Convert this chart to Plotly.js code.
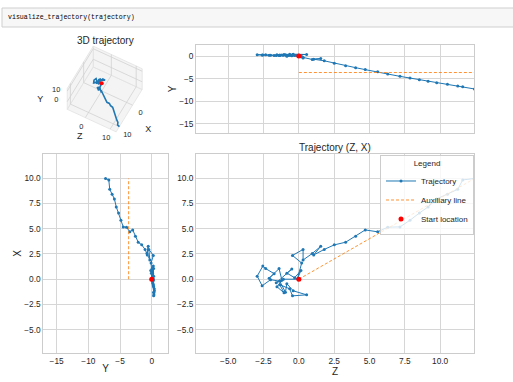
<!DOCTYPE html>
<html><head><meta charset="utf-8">
<script src="https://cdn.plot.ly/plotly-3.0.1.min.js"></script>
<style>html,body{margin:0;padding:0;background:#fff;overflow:hidden}#chart{width:513px;height:382px}</style>
</head><body><div id="chart"></div>
<script>
// Trajectory coordinates
const trajZ = [0.00,-1.10,-1.55,-1.05,-1.35,-0.65,-0.45,0.55,-0.40,-0.85,-0.95,-1.35,-2.00,-2.60,-2.95,-2.55,-2.35,-1.75,-2.10,-1.40,-1.20,-1.60,-0.50,-0.85,-0.30,0.15,-0.10,0.20,-0.45,0.30,0.30,0.95,1.55,1.05,1.80,2.51,3.31,4.02,4.70,5.58,6.29,7.16,7.87,8.53,9.15,9.76,10.52,11.25,11.60,12.43];
const trajX = [0.00,0.00,-0.75,-1.35,-0.55,-0.95,-1.65,-1.55,-1.15,-0.45,-1.30,-0.20,-0.05,-0.65,0.30,1.30,1.05,0.55,0.10,1.05,-0.10,-0.35,1.00,0.60,0.15,0.85,0.05,1.60,2.35,2.95,1.90,2.55,3.25,2.40,2.95,3.40,3.66,4.26,4.88,4.69,5.15,5.18,5.84,6.55,7.16,7.95,8.40,8.90,9.83,9.97];
const trajY = [0.00,0.20,0.30,0.35,0.25,0.40,0.30,0.35,0.42,0.20,0.30,0.15,0.20,0.25,0.30,0.25,0.30,0.15,0.20,0.10,0.25,0.15,0.05,-0.05,0.10,-0.15,0.05,-0.10,0.25,-0.45,-0.30,-0.75,-0.55,-0.70,-1.05,-1.58,-2.13,-2.57,-3.00,-3.46,-3.97,-4.49,-4.86,-5.23,-5.59,-5.89,-6.25,-6.62,-6.77,-7.28];
const startZ = [0], startX = [0], startY = [0];
const auxZ = [0, 12.43], auxX = [0, 9.97], auxY = [-3.64, -3.64];
const rangeZX = [-7.28, 12.4];
const rangeY = [-17.1, 2.52];
const range3D = [-7.28, 12.4];
const ticks3D = [0, 10];
const tickLabels3D = ['0', '10'];

const blue = '#1f77b4', orange = '#ff7f0e', red = '#ff0000';
const trajStyle = {mode:'lines+markers', line:{color:blue, width:1}, marker:{color:blue, size:3}};
const auxStyle = {mode:'lines', line:{color:orange, width:1, dash:'3px,2px'}, opacity:0.85};
const startStyle = {mode:'markers', marker:{color:red, size:5}};

// ---- 3D view (matplotlib-like orthographic projection onto a hidden 2D axis) ----
const AZ = 28 * Math.PI / 180, EL = 60 * Math.PI / 180;
const BOX_ASPECT = [1, 1, 0.75];       // matplotlib default box aspect 4:4:3
const PX = 55.4;                        // pixels per box unit
const CX = 104.7, CY = 89;              // pixel position of the box centre
const P3 = {x0:40, x1:170, y0:40, y1:150}; // pixel region of the 3D panel
function proj(X, Z, Y) {               // mpl x = X, y = Z, z = Y
  const span = range3D[1] - range3D[0], mid = (range3D[0] + range3D[1]) / 2;
  const bx = (X - mid) / span * BOX_ASPECT[0];
  const by = (Z - mid) / span * BOX_ASPECT[1];
  const bz = (Y - mid) / span * BOX_ASPECT[2];
  const sa = Math.sin(AZ), ca = Math.cos(AZ), se = Math.sin(EL), ce = Math.cos(EL);
  return [-sa * bx + ca * by, -se * ca * bx - se * sa * by + ce * bz];
}
function projList(Xs, Zs, Ys) {
  const h = [], v = [];
  for (let i = 0; i < Xs.length; i++) {
    if (Xs[i] === null) { h.push(null); v.push(null); continue; }
    const p = proj(Xs[i], Zs[i], Ys[i]); h.push(p[0]); v.push(p[1]);
  }
  return {h, v};
}
const lo = range3D[0], hi = range3D[1];
// panes: floor (Y = lo), wall X = lo, wall Z = lo
const paneFloor = projList([lo, hi, hi, lo, lo], [lo, lo, hi, hi, lo], [lo, lo, lo, lo, lo]);
const paneWallX = projList([lo, lo, lo, lo, lo], [lo, hi, hi, lo, lo], [lo, lo, hi, hi, lo]);
const paneWallZ = projList([lo, hi, hi, lo, lo], [lo, lo, lo, lo, lo], [lo, lo, hi, hi, lo]);
// grid lines at the tick values
const gX = [], gZ = [], gY = [];
ticks3D.forEach(t => {
  gX.push(t, t, null);  gZ.push(lo, hi, null); gY.push(lo, lo, null);   // floor, X = t
  gX.push(lo, hi, null); gZ.push(t, t, null);  gY.push(lo, lo, null);   // floor, Z = t
  gX.push(lo, lo, null); gZ.push(t, t, null);  gY.push(lo, hi, null);   // wall X=lo, Z = t
  gX.push(lo, lo, null); gZ.push(lo, hi, null); gY.push(t, t, null);    // wall X=lo, Y = t
  gX.push(t, t, null);  gZ.push(lo, lo, null); gY.push(lo, hi, null);   // wall Z=lo, X = t
  gX.push(lo, hi, null); gZ.push(lo, lo, null); gY.push(t, t, null);    // wall Z=lo, Y = t
});
const grid3 = projList(gX, gZ, gY);
const traj3 = projList(trajX, trajZ, trajY);
const start3 = projList(startX, startZ, startY);
// tick labels and axis labels, placed on the matplotlib tick edges with a pixel offset
function labelPos(Xs, Zs, Ys, dx, dy) {
  const p = projList(Xs, Zs, Ys);
  return {h: p.h.map(x => x + dx / PX), v: p.v.map(y => y - dy / PX)};
}
const tickXpos = labelPos(ticks3D, ticks3D.map(() => hi), ticks3D.map(() => lo), 8, 8);
const tickZpos = labelPos(ticks3D.map(() => hi), ticks3D, ticks3D.map(() => lo), -4, 9);
const tickYpos = labelPos(ticks3D.map(() => hi), ticks3D.map(() => lo), ticks3D, -11, -1);
const midv = (lo + hi) / 2;
const labX = labelPos([midv], [hi], [lo], 19, 19);
const labZ = labelPos([hi], [midv], [lo], -12, 16);
const labY = labelPos([hi], [lo], [midv], -27, 1);

const s3 = {xaxis:'x4', yaxis:'y4', showlegend:false, hoverinfo:'skip', cliponaxis:false};
const paneStyle = {mode:'lines', fill:'toself', fillcolor:'rgba(236,236,236,0.6)', line:{color:'#e2e2e2', width:0.8}};
const txt3 = {mode:'text', textfont:{size:7.5, color:'#262626'}};

const data = [
  // (Z, X) panel with legend
  Object.assign({type:'scatter', x:trajZ, y:trajX, xaxis:'x3', yaxis:'y3', name:'Trajectory', showlegend:true}, trajStyle),
  Object.assign({type:'scatter', x:auxZ, y:auxX, xaxis:'x3', yaxis:'y3', name:'Auxiliary line', showlegend:true}, auxStyle),
  Object.assign({type:'scatter', x:startZ, y:startX, xaxis:'x3', yaxis:'y3', name:'Start location', showlegend:true}, startStyle),
  // (Z, Y) panel
  Object.assign({type:'scatter', x:trajZ, y:trajY, xaxis:'x', yaxis:'y', showlegend:false}, trajStyle),
  Object.assign({type:'scatter', x:auxZ, y:auxY, xaxis:'x', yaxis:'y', showlegend:false}, auxStyle),
  Object.assign({type:'scatter', x:startZ, y:startY, xaxis:'x', yaxis:'y', showlegend:false}, startStyle),
  // (Y, X) panel
  Object.assign({type:'scatter', x:trajY, y:trajX, xaxis:'x2', yaxis:'y2', showlegend:false}, trajStyle),
  Object.assign({type:'scatter', x:auxY, y:auxX, xaxis:'x2', yaxis:'y2', showlegend:false}, auxStyle),
  Object.assign({type:'scatter', x:startY, y:startX, xaxis:'x2', yaxis:'y2', showlegend:false}, startStyle),
  // 3D panel
  Object.assign({type:'scatter', x:paneFloor.h, y:paneFloor.v}, s3, paneStyle),
  Object.assign({type:'scatter', x:paneWallX.h, y:paneWallX.v}, s3, paneStyle),
  Object.assign({type:'scatter', x:paneWallZ.h, y:paneWallZ.v}, s3, paneStyle),
  Object.assign({type:'scatter', x:grid3.h, y:grid3.v, mode:'lines', line:{color:'#d2d2d2', width:0.8}, connectgaps:false}, s3),
  Object.assign({type:'scatter', x:traj3.h, y:traj3.v, mode:'lines', line:{color:blue, width:1.6}}, s3),
  Object.assign({type:'scatter', x:start3.h, y:start3.v, mode:'markers', marker:{color:red, size:4}}, s3),
  Object.assign({type:'scatter', x:tickXpos.h, y:tickXpos.v, text:tickLabels3D}, s3, txt3),
  Object.assign({type:'scatter', x:tickZpos.h, y:tickZpos.v, text:tickLabels3D}, s3, txt3),
  Object.assign({type:'scatter', x:tickYpos.h, y:tickYpos.v, text:tickLabels3D}, s3, txt3),
  Object.assign({type:'scatter', x:labX.h, y:labX.v, text:['X']}, s3, {mode:'text', textfont:{size:9, color:'#262626'}}),
  Object.assign({type:'scatter', x:labZ.h, y:labZ.v, text:['Z']}, s3, {mode:'text', textfont:{size:9, color:'#262626'}}),
  Object.assign({type:'scatter', x:labY.h, y:labY.v, text:['Y']}, s3, {mode:'text', textfont:{size:9, color:'#262626'}})
];

const grid = {showgrid:true, gridcolor:'#d6d6d6', gridwidth:1, showline:true, linecolor:'#cccccc', linewidth:1, mirror:true, zeroline:false, ticks:'', tickfont:{size:8.3, color:'#262626'}};
const ttl = (t) => ({text:t, font:{size:10, color:'#262626'}, standoff:0});
const W = 513, H = 382;

const layout = {
  width:W, height:H, margin:{l:0, r:0, t:0, b:0},
  paper_bgcolor:'#ffffff', plot_bgcolor:'rgba(0,0,0,0)',
  font:{family:'"Liberation Sans", Arial, sans-serif', color:'#262626', size:8.3},
  showlegend:true,
  legend:{x:0.924, xanchor:'right', y:0.594, yanchor:'top', bgcolor:'rgba(255,255,255,0.8)', bordercolor:'#cccccc', borderwidth:1, font:{size:8}, title:{text:'Legend', side:'top center', font:{size:8}}, itemwidth:30, tracegroupgap:0},
  xaxis: Object.assign({}, grid, {domain:[0.3821, 0.924], range:rangeZX, dtick:2.5, tick0:0, showticklabels:false, anchor:'y'}),
  yaxis: Object.assign({}, grid, {domain:[0.651, 0.883], range:rangeY, dtick:5, tick0:0, anchor:'x', title:ttl('Y')}),
  xaxis2: Object.assign({}, grid, {domain:[0.0844, 0.3269], range:rangeY, dtick:5, tick0:0, anchor:'y2', title:ttl('Y')}),
  yaxis2: Object.assign({}, grid, {domain:[0.0767, 0.5969], range:rangeZX, dtick:2.5, tick0:0, tickformat:'.1f', anchor:'x2', title:ttl('X')}),
  xaxis3: Object.assign({}, grid, {domain:[0.3821, 0.924], range:rangeZX, dtick:2.5, tick0:0, tickformat:'.1f', anchor:'y3', title:ttl('Z')}),
  yaxis3: Object.assign({}, grid, {domain:[0.0767, 0.5969], range:rangeZX, dtick:2.5, tick0:0, tickformat:'.1f', anchor:'x3'}),
  xaxis4: {domain:[P3.x0 / W, P3.x1 / W], range:[(P3.x0 - CX) / PX, (P3.x1 - CX) / PX], visible:false, anchor:'y4', fixedrange:true},
  yaxis4: {domain:[1 - P3.y1 / H, 1 - P3.y0 / H], range:[(CY - P3.y1) / PX, (CY - P3.y0) / PX], visible:false, anchor:'x4', fixedrange:true},
  shapes:[
    {type:'rect', xref:'paper', yref:'paper', x0:2/W, x1:1.02, y0:1-27/H, y1:1-8/H, fillcolor:'#f7f7f7', line:{color:'#cfcfcf', width:1}, layer:'below'}
  ],
  annotations:[
    {text:'visualize_trajectory(trajectory)', xref:'paper', yref:'paper', x:6/W, y:1-17.5/H, xanchor:'left', yanchor:'middle', showarrow:false, font:{family:'"Liberation Mono", "DejaVu Sans Mono", monospace', size:6.6, color:'#000000'}},
    {text:'3D trajectory', xref:'paper', yref:'paper', x:105/W, y:1-40/H, xanchor:'center', yanchor:'middle', showarrow:false, font:{size:10, color:'#262626'}},
    {text:'Trajectory (Z, X)', xref:'paper', yref:'paper', x:335/W, y:1-147/H, xanchor:'center', yanchor:'middle', showarrow:false, font:{size:10, color:'#262626'}}
  ]
};

Plotly.newPlot('chart', data, layout, {displayModeBar:false, staticPlot:true});
</script>
</body></html>
